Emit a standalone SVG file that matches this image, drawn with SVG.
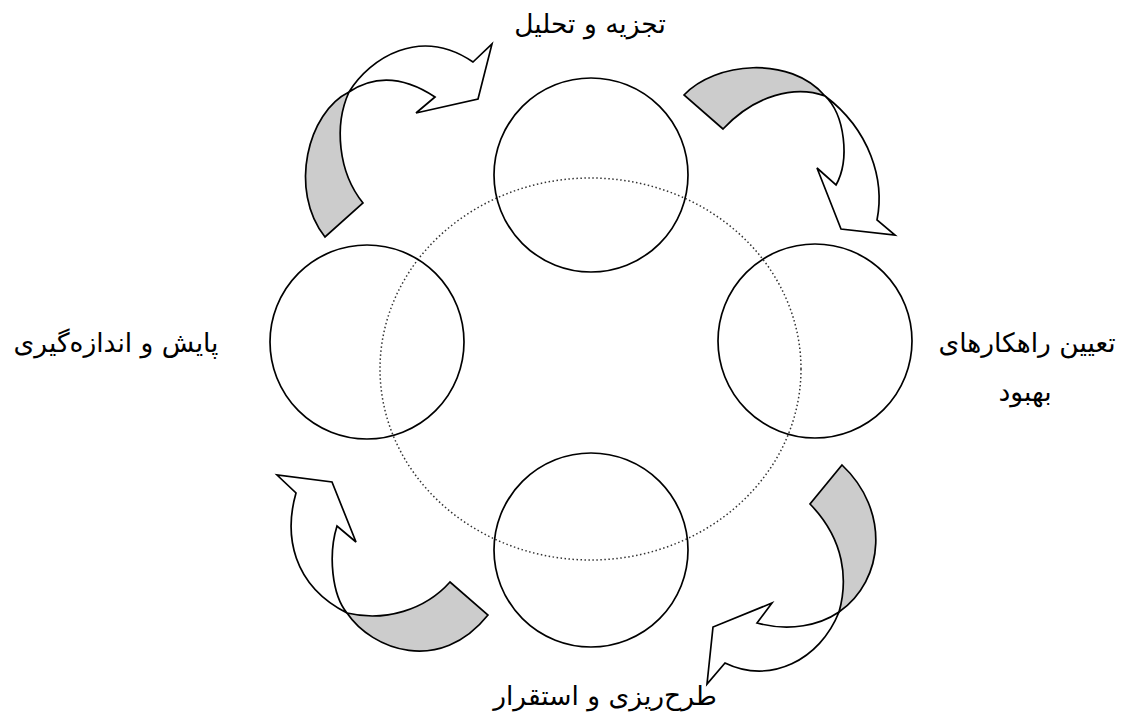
<svg xmlns="http://www.w3.org/2000/svg" width="1125" height="716" viewBox="0 0 1125 716">
<style>
.c{fill:none;stroke:#000;stroke-width:1.7}
.w{fill:#fff;stroke:#000;stroke-width:1.7;stroke-linejoin:miter}
.g{fill:#cccccc;stroke:#000;stroke-width:1.7;stroke-linejoin:miter}
.t{font-family:"DejaVu Sans",sans-serif;font-size:26.5px;fill:#000;text-anchor:middle}
</style>
<rect width="1125" height="716" fill="#fff"/>
<ellipse cx="590.5" cy="369" rx="210.5" ry="191" fill="none" stroke="#333" stroke-width="1.5" stroke-dasharray="1.5 2.5"/>
<g id="node-top"><circle class="c" cx="591" cy="175" r="97"/><text class="t" x="590" y="33" direction="rtl">تجزیه و تحلیل</text></g>
<g id="node-right"><circle class="c" cx="815" cy="341" r="97"/><text class="t" x="1027" y="352" direction="rtl">تعیین راهکارهای</text><text class="t" x="1025" y="401" direction="rtl">بهبود</text></g>
<g id="node-bottom"><circle class="c" cx="591" cy="550" r="97"/><text class="t" x="605" y="705" direction="rtl">طرح‌ریزی و استقرار</text></g>
<g id="node-left"><circle class="c" cx="367" cy="342" r="97"/><text class="t" x="116" y="352" direction="rtl">پایش و اندازه‌گیری</text></g>
<g id="connectors">
<path class="g" d="M349,92 C308,112 288,190 325,237 L363,203 C338,172 334,125 349,92 Z"/>
<path class="w" d="M349,92 C370,58 420,26 473,62 L492,44 L478,99 L416,113 L435,97 Q388,66 349,92 Z"/>
<path class="g" d="M684,95 C715,62 790,55 825,96 C795,85 755,95 723,129 Z"/>
<path class="w" d="M825,96 C845,115 850,160 836,185 L817,168 L841,229 L895,235 L877,220 C885,180 870,130 825,96 Z"/>
<path class="g" d="M842,465 C890,510 885,580 839,612 C848,580 845,540 810,504 Z"/>
<path class="w" d="M839,612 C820,625 790,632 757,623 L772,603 L713,627 L707,684 L725,663 C770,685 820,660 839,612 Z"/>
<path class="g" d="M347,613 C372,650 440,675 488,615 L450,582 C425,610 385,622 347,613 Z"/>
<path class="w" d="M347,613 C332,595 328,555 337,526 L356,542 L332,482 L277,475 L296,493 C284,535 292,585 347,613 Z"/>
</g>
</svg>
